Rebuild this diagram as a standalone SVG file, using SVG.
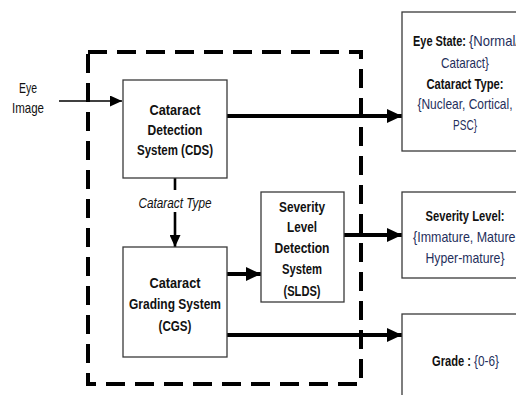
<svg xmlns="http://www.w3.org/2000/svg" width="516" height="395" viewBox="0 0 516 395">
  <style>
    .box { fill: #ffffff; stroke: #3a3a3a; stroke-width: 1.3; }
    .lbl { font-family: "Liberation Sans", Arial, sans-serif; font-size: 14.5px; text-anchor: middle; fill: #111111; }
    .st { text-anchor: start; }
    .b { font-weight: bold; }
    .val { fill: #1f2f5c; font-weight: normal; }
    .thick { stroke: #000000; stroke-width: 4; fill: none; }
    .thin { stroke: #000000; stroke-width: 1.6; fill: none; }
    .mid { stroke: #000000; stroke-width: 2.6; fill: none; }
  </style>
  <defs>
    <marker id="headBig" markerUnits="userSpaceOnUse" markerWidth="16" markerHeight="14" refX="15" refY="7" orient="auto">
      <path d="M0,0 L15,7 L0,14 Z" fill="#000000"/>
    </marker>
    <marker id="headSmall" markerUnits="userSpaceOnUse" markerWidth="13" markerHeight="11" refX="12" refY="5.5" orient="auto">
      <path d="M0,0 L12,5.5 L0,11 Z" fill="#000000"/>
    </marker>
  </defs>
  <rect width="516" height="395" fill="#ffffff"/>

  <!-- system boundary -->
  <rect id="boundary" x="88" y="52" width="273" height="332" fill="none" stroke="#000000" stroke-width="4" stroke-dasharray="19 10"/>

  <!-- input label -->
  <g id="eye-image">
    <text class="lbl" x="28" y="93" textLength="18" lengthAdjust="spacingAndGlyphs">Eye</text>
    <text class="lbl" x="28" y="113" textLength="32" lengthAdjust="spacingAndGlyphs">Image</text>
  </g>

  <g id="connectors">
    <line class="thin" x1="59" y1="101" x2="122" y2="101" marker-end="url(#headSmall)"/>
    <line class="thick" x1="227" y1="116" x2="402" y2="116" marker-end="url(#headBig)"/>
    <line class="mid" x1="175" y1="178" x2="175" y2="190"/>
    <line class="mid" x1="175" y1="212" x2="175" y2="247" marker-end="url(#headSmall)"/>
    <line class="thick" x1="227" y1="274" x2="261" y2="274" marker-end="url(#headBig)"/>
    <line class="thick" x1="344" y1="235" x2="402" y2="235" marker-end="url(#headBig)"/>
    <line class="thick" x1="227" y1="335" x2="402" y2="335" marker-end="url(#headBig)"/>
    <text class="lbl" x="175" y="208" font-size="14" font-style="italic" fill="#44546a" textLength="73" lengthAdjust="spacingAndGlyphs">Cataract Type</text>
  </g>

  <g id="cds">
    <rect class="box" x="123" y="80" width="104" height="98"/>
    <text class="lbl b" x="175" y="115" textLength="51" lengthAdjust="spacingAndGlyphs">Cataract</text>
    <text class="lbl b" x="175" y="135" textLength="55" lengthAdjust="spacingAndGlyphs">Detection</text>
    <text class="lbl b" x="175" y="155" textLength="76" lengthAdjust="spacingAndGlyphs">System (CDS)</text>
  </g>

  <g id="cgs">
    <rect class="box" x="123" y="247" width="104" height="110"/>
    <text class="lbl b" x="175" y="288" textLength="51" lengthAdjust="spacingAndGlyphs">Cataract</text>
    <text class="lbl b" x="175" y="309" textLength="92" lengthAdjust="spacingAndGlyphs">Grading System</text>
    <text class="lbl b" x="175" y="331" textLength="33" lengthAdjust="spacingAndGlyphs">(CGS)</text>
  </g>

  <g id="slds">
    <rect class="box" x="261" y="192" width="83" height="110"/>
    <text class="lbl b" x="302" y="212" textLength="46" lengthAdjust="spacingAndGlyphs">Severity</text>
    <text class="lbl b" x="302" y="232" textLength="30" lengthAdjust="spacingAndGlyphs">Level</text>
    <text class="lbl b" x="302" y="253" textLength="55" lengthAdjust="spacingAndGlyphs">Detection</text>
    <text class="lbl b" x="302" y="274" textLength="40" lengthAdjust="spacingAndGlyphs">System</text>
    <text class="lbl b" x="302" y="296" textLength="37" lengthAdjust="spacingAndGlyphs">(SLDS)</text>
  </g>

  <g id="eye-state">
    <rect class="box" x="402" y="12" width="130" height="139"/>
    <text class="lbl st b" x="413" y="46" textLength="53" lengthAdjust="spacingAndGlyphs">Eye State:</text>
    <text class="lbl st val" x="469" y="46" textLength="50" lengthAdjust="spacingAndGlyphs">{Normal/</text>
    <text class="lbl val" x="465" y="68" textLength="48" lengthAdjust="spacingAndGlyphs">Cataract}</text>
    <text class="lbl b" x="465" y="89" textLength="77" lengthAdjust="spacingAndGlyphs">Cataract Type:</text>
    <text class="lbl val" x="465" y="109" textLength="95" lengthAdjust="spacingAndGlyphs">{Nuclear, Cortical,</text>
    <text class="lbl val" x="465" y="130" textLength="24" lengthAdjust="spacingAndGlyphs">PSC}</text>
  </g>

  <g id="severity">
    <rect class="box" x="402" y="192" width="130" height="86"/>
    <text class="lbl b" x="465" y="221" textLength="79" lengthAdjust="spacingAndGlyphs">Severity Level:</text>
    <text class="lbl val" x="466" y="242" textLength="106" lengthAdjust="spacingAndGlyphs">{Immature, Mature,</text>
    <text class="lbl val" x="465" y="263" textLength="79" lengthAdjust="spacingAndGlyphs">Hyper-mature}</text>
  </g>

  <g id="grade">
    <rect class="box" x="402" y="314" width="130" height="100"/>
    <text class="lbl st b" x="432" y="366" textLength="39" lengthAdjust="spacingAndGlyphs">Grade :</text>
    <text class="lbl st val" x="474" y="366" textLength="25" lengthAdjust="spacingAndGlyphs">{0-6}</text>
  </g>
</svg>
